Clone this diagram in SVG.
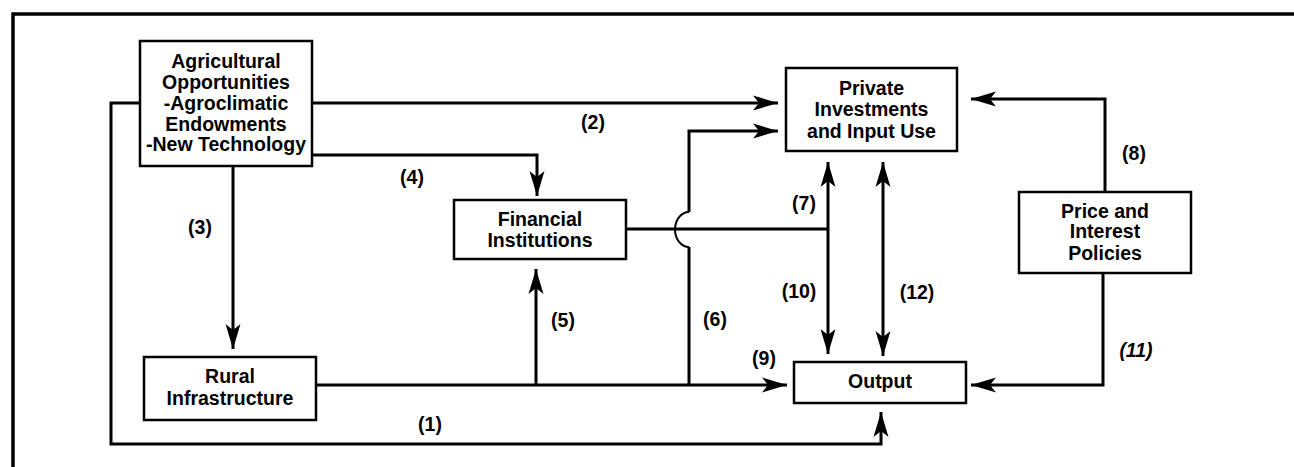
<svg xmlns="http://www.w3.org/2000/svg" width="1294" height="467" viewBox="0 0 1294 467">
<style>
.box{fill:#fff;stroke:#000;stroke-width:2.5}
.t{font-family:"Liberation Sans",Arial,sans-serif;font-weight:bold;font-size:19.5px;fill:#000;text-anchor:middle}
.c{fill:none;stroke:#000;stroke-width:3}
.thin{fill:none;stroke:#000;stroke-width:2}
</style>
<defs>
<marker id="ah" viewBox="-27 -9 28 18" refX="0" refY="0" markerWidth="28" markerHeight="18" markerUnits="userSpaceOnUse" orient="auto-start-reverse">
<path d="M0,0 L-25,-7.5 L-19,0 L-25,7.5 Z" fill="#000"/>
</marker>
</defs>
<rect width="1294" height="467" fill="#fff"/>
<path d="M13,467 V14 H1294" fill="none" stroke="#000" stroke-width="3.5"/>
<g id="connectors">
<path class="c" d="M312,103 H778" marker-end="url(#ah)"/>
<path class="c" d="M312,155 H537 V196" marker-end="url(#ah)"/>
<path class="c" d="M233,166 V349" marker-end="url(#ah)"/>
<path class="c" d="M140,103 H111 V444 H881 V412" marker-end="url(#ah)"/>
<path class="c" d="M316,385 H787" marker-end="url(#ah)"/>
<path class="c" d="M536,385 V269" marker-end="url(#ah)"/>
<path class="c" d="M689,385 V247"/>
<path class="thin" d="M689,247 A14,17.5 0 0 1 689,212"/>
<path class="c" d="M689,212 V131 H778" marker-end="url(#ah)"/>
<path class="c" d="M626,229 H828"/>
<path class="c" d="M828,162 V354" marker-start="url(#ah)" marker-end="url(#ah)"/>
<path class="c" d="M883,162 V356" marker-start="url(#ah)" marker-end="url(#ah)"/>
<path class="c" d="M1105,192 V99 H971" marker-end="url(#ah)"/>
<path class="c" d="M1103,273 V385 H971" marker-end="url(#ah)"/>
<g class="t">
<text x="593" y="129">(2)</text>
<text x="412" y="184">(4)</text>
<text x="200" y="234">(3)</text>
<text x="563" y="327">(5)</text>
<text x="715" y="326">(6)</text>
<text x="764" y="365">(9)</text>
<text x="799" y="298">(10)</text>
<text x="804" y="210">(7)</text>
<text x="430" y="431">(1)</text>
<text x="917" y="299">(12)</text>
<text x="1136" y="357" font-style="italic">(11)</text>
<text x="1134" y="160">(8)</text>
</g>
</g>
<g id="agri">
<rect class="box" x="140" y="41" width="172" height="125"/>
<text class="t" x="226" y="68">Agricultural</text>
<text class="t" x="226" y="89">Opportunities</text>
<text class="t" x="226" y="110">-Agroclimatic</text>
<text class="t" x="226" y="131">Endowments</text>
<text class="t" x="226" y="151">-New Technology</text>
</g>
<g id="private">
<rect class="box" x="786" y="68" width="171" height="83"/>
<text class="t" x="871.5" y="95">Private</text>
<text class="t" x="871.5" y="116">Investments</text>
<text class="t" x="871.5" y="138">and Input Use</text>
</g>
<g id="financial">
<rect class="box" x="454" y="200" width="172" height="59"/>
<text class="t" x="540" y="226">Financial</text>
<text class="t" x="540" y="247">Institutions</text>
</g>
<g id="rural">
<rect class="box" x="144" y="357" width="172" height="63"/>
<text class="t" x="230" y="383">Rural</text>
<text class="t" x="230" y="405">Infrastructure</text>
</g>
<g id="output">
<rect class="box" x="794" y="362" width="172" height="41"/>
<text class="t" x="880" y="388">Output</text>
</g>
<g id="price">
<rect class="box" x="1019" y="192" width="172" height="81"/>
<text class="t" x="1105" y="218">Price and</text>
<text class="t" x="1105" y="238">Interest</text>
<text class="t" x="1105" y="260">Policies</text>
</g>
</svg>
